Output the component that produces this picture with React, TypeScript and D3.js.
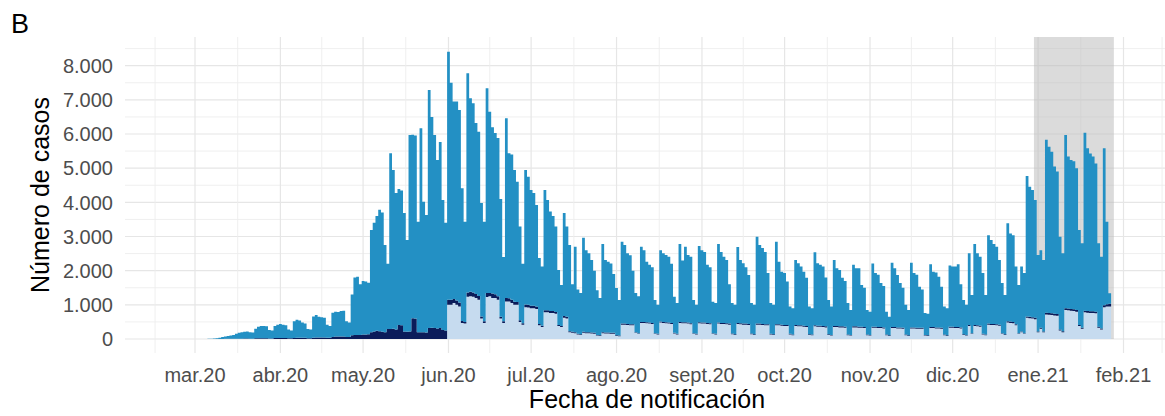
import React from 'react';
import * as d3 from 'd3';

// Casos diarios por fecha de notificación, semanas de lunes a domingo desde el 2 mar 2020
const startDate = Date.UTC(2020, 2, 2);
const DAY = 86400000;

// total de casos por día (altura de la barra completa)
const totalCasos: number[][] = [
  [0, 0, 0, 0, 5, 10, 15],
  [20, 40, 60, 70, 90, 100, 120],
  [150, 180, 200, 210, 220, 200, 190],
  [300, 360, 380, 380, 370, 260, 250],
  [380, 420, 440, 420, 400, 280, 250],
  [520, 560, 540, 480, 450, 290, 280],
  [660, 700, 650, 640, 620, 420, 380],
  [770, 800, 790, 820, 830, 520, 480],
  [1300, 1800, 1820, 1600, 1700, 1680, 1650],
  [3190, 3400, 3600, 3780, 3700, 2750, 2200],
  [5440, 4950, 4270, 4390, 4350, 3690, 2900],
  [5970, 5980, 5960, 3430, 6170, 4020, 3630],
  [7290, 6500, 5970, 5240, 5770, 4070, 3400],
  [8410, 7500, 6950, 6950, 6700, 4410, 3430],
  [7780, 7050, 6900, 6320, 6070, 3980, 3430],
  [7340, 6650, 6200, 6030, 5880, 4100, 2400],
  [6460, 5440, 5400, 4950, 4600, 3290, 2200],
  [4950, 4750, 4360, 4270, 3920, 2370, 2120],
  [4360, 4070, 3730, 3600, 3290, 2020, 1580],
  [3690, 3290, 2750, 1600, 2700, 1450, 1350],
  [2960, 2600, 2510, 2310, 2000, 1430, 1200],
  [2780, 2310, 2260, 2210, 1900, 1490, 1140],
  [2850, 2750, 2510, 2450, 2000, 1350, 1250],
  [2700, 2600, 2260, 2170, 2100, 1140, 1000],
  [2600, 2510, 2460, 2410, 2200, 1240, 1050],
  [2780, 2300, 2700, 2460, 2410, 1140, 1000],
  [2720, 2600, 2550, 2170, 2100, 1090, 1050],
  [2780, 2550, 2410, 2310, 1600, 1050, 1000],
  [2690, 2310, 2220, 2100, 1870, 1050, 1000],
  [2990, 2750, 2660, 2550, 1930, 1050, 1000],
  [2850, 2260, 1970, 1930, 1680, 950, 900],
  [2310, 2220, 2120, 1970, 1790, 950, 900],
  [2540, 2220, 2170, 2120, 1800, 1140, 950],
  [2310, 2070, 2020, 1790, 1700, 1050, 850],
  [2170, 2070, 2070, 1580, 1500, 850, 800],
  [2210, 1930, 1880, 1640, 1550, 800, 650],
  [2230, 2070, 1870, 1640, 1500, 1000, 850],
  [2230, 1930, 1880, 1530, 1450, 760, 740],
  [2190, 1970, 1950, 1820, 1530, 950, 900],
  [2150, 2120, 2120, 2190, 1600, 1140, 1000],
  [2510, 1290, 2780, 2510, 2410, 1930, 1290],
  [3040, 2900, 2780, 2700, 2310, 1640, 1290],
  [3390, 3090, 3040, 2120, 1580, 2120, 1930],
  [4770, 4460, 4360, 4070, 2460, 2600, 2310],
  [5830, 5630, 5480, 5050, 4900, 2990, 2510],
  [5970, 5340, 5240, 5200, 5000, 3190, 2800],
  [6040, 5580, 5430, 5340, 5140, 2800, 2410],
  [5580, 3430, 1340],
];

// serie inferior (celeste claro)
const serieClara: number[][] = [
  [0, 0, 0, 0, 0, 0, 0],
  [0, 0, 0, 0, 0, 0, 0],
  [0, 0, 0, 0, 0, 0, 0],
  [0, 0, 0, 0, 0, 0, 0],
  [0, 0, 0, 0, 0, 0, 0],
  [0, 0, 0, 0, 0, 0, 0],
  [0, 0, 0, 0, 0, 0, 0],
  [0, 0, 0, 0, 0, 0, 0],
  [0, 0, 0, 0, 0, 0, 0],
  [0, 0, 0, 0, 0, 0, 0],
  [0, 0, 0, 0, 0, 0, 0],
  [0, 0, 0, 0, 0, 0, 0],
  [0, 0, 0, 0, 0, 0, 0],
  [1000, 1000, 1050, 1000, 950, 470, 450],
  [1240, 1250, 1240, 1200, 1150, 600, 470],
  [1230, 1250, 1200, 1200, 1150, 600, 470],
  [1100, 1100, 1050, 1000, 1000, 500, 420],
  [930, 920, 900, 900, 880, 400, 350],
  [780, 780, 760, 760, 740, 380, 350],
  [620, 600, 200, 180, 170, 130, 120],
  [180, 170, 170, 160, 150, 100, 90],
  [170, 160, 160, 150, 150, 90, 80],
  [420, 420, 410, 400, 400, 180, 150],
  [470, 470, 460, 450, 440, 150, 130],
  [480, 470, 460, 450, 440, 160, 130],
  [470, 460, 460, 450, 430, 150, 130],
  [460, 450, 450, 440, 430, 150, 130],
  [450, 440, 440, 430, 420, 140, 120],
  [440, 430, 420, 420, 410, 140, 120],
  [420, 420, 410, 400, 400, 130, 120],
  [400, 400, 390, 380, 380, 130, 110],
  [380, 370, 370, 360, 350, 120, 110],
  [370, 360, 360, 350, 340, 120, 100],
  [350, 350, 340, 340, 330, 110, 100],
  [340, 340, 330, 330, 320, 110, 100],
  [330, 330, 320, 320, 310, 110, 90],
  [320, 320, 310, 310, 300, 110, 90],
  [310, 310, 300, 300, 300, 100, 90],
  [320, 320, 310, 310, 300, 110, 90],
  [330, 330, 320, 320, 310, 120, 100],
  [380, 150, 380, 370, 360, 130, 110],
  [420, 410, 410, 400, 390, 150, 120],
  [480, 470, 460, 400, 150, 200, 150],
  [620, 610, 600, 580, 200, 300, 200],
  [720, 710, 700, 690, 680, 250, 200],
  [850, 840, 830, 820, 800, 380, 300],
  [780, 770, 760, 760, 750, 330, 280],
  [930, 950, 950],
];

// serie intermedia (azul oscuro)
const serieOscura: number[][] = [
  [0, 0, 0, 0, 0, 0, 0],
  [0, 0, 0, 5, 5, 5, 5],
  [10, 10, 10, 15, 15, 10, 10],
  [20, 20, 25, 25, 25, 15, 15],
  [30, 30, 30, 30, 30, 20, 20],
  [30, 35, 35, 35, 35, 25, 25],
  [40, 45, 45, 45, 45, 35, 35],
  [60, 70, 70, 70, 70, 60, 60],
  [110, 120, 120, 120, 130, 130, 140],
  [200, 220, 240, 230, 210, 200, 290],
  [290, 300, 280, 410, 400, 220, 210],
  [220, 610, 600, 200, 200, 200, 190],
  [320, 330, 320, 310, 320, 260, 250],
  [150, 150, 120, 130, 120, 60, 50],
  [120, 130, 120, 120, 110, 60, 50],
  [120, 100, 130, 110, 100, 50, 50],
  [100, 90, 100, 90, 80, 50, 40],
  [80, 80, 70, 70, 70, 40, 40],
  [60, 60, 60, 60, 50, 30, 30],
  [50, 50, 30, 30, 30, 20, 20],
  [30, 30, 30, 30, 30, 20, 20],
  [30, 30, 30, 30, 30, 20, 20],
  [30, 30, 30, 30, 30, 20, 20],
  [30, 30, 30, 30, 30, 20, 20],
  [30, 30, 30, 30, 30, 20, 20],
  [30, 30, 30, 30, 30, 20, 20],
  [30, 30, 30, 30, 30, 20, 20],
  [30, 30, 30, 30, 30, 20, 20],
  [30, 30, 30, 30, 30, 20, 20],
  [30, 30, 30, 30, 30, 20, 20],
  [30, 30, 30, 30, 30, 20, 20],
  [30, 30, 30, 30, 30, 20, 20],
  [30, 30, 30, 30, 30, 20, 20],
  [30, 30, 30, 30, 30, 20, 20],
  [30, 30, 30, 30, 30, 20, 20],
  [30, 30, 30, 30, 30, 20, 20],
  [30, 30, 30, 30, 30, 20, 20],
  [30, 30, 30, 30, 30, 20, 20],
  [30, 30, 30, 30, 30, 20, 20],
  [30, 30, 30, 30, 30, 20, 20],
  [30, 20, 30, 30, 30, 20, 20],
  [30, 30, 30, 30, 30, 20, 20],
  [40, 40, 40, 30, 20, 20, 20],
  [40, 40, 40, 40, 20, 30, 20],
  [50, 50, 50, 50, 50, 30, 30],
  [50, 50, 50, 50, 50, 30, 30],
  [50, 50, 50, 50, 50, 30, 30],
  [60, 70, 80],
];

// tramo sombreado
const sombraInicio = Date.UTC(2020, 11, 31);
const sombraFin = Date.UTC(2021, 0, 28);

const yTicks = [0, 1000, 2000, 3000, 4000, 5000, 6000, 7000, 8000];
const xTickLabels = [
  'mar.20', 'abr.20', 'may.20', 'jun.20', 'jul.20', 'ago.20',
  'sept.20', 'oct.20', 'nov.20', 'dic.20', 'ene.21', 'feb.21',
];

const WIDTH = 1165;
const HEIGHT = 416;
const panel = { left: 125, right: 1165, top: 37, bottom: 353 };

const COLOR_CLARO = '#c6dbef';
const COLOR_OSCURO = '#0b1c5a';
const COLOR_AZUL = '#2390c4';
const FONT = 'Liberation Sans, Arial, Helvetica, sans-serif';

const App: React.FC = () => {
  const totals = totalCasos.flat();
  const claros = serieClara.flat();
  const oscuros = serieOscura.flat();

  const rows = totals.map((t, i) => {
    const claro = claros[i] ?? 0;
    const oscuro = oscuros[i] ?? 0;
    return {
      t: startDate + i * DAY,
      claro,
      oscuro,
      azul: Math.max(0, t - claro - oscuro),
    };
  });

  // escala de tiempo anclada en 1 mar 2020 y 1 feb 2021
  const x = d3.scaleUtc()
    .domain([new Date(Date.UTC(2020, 2, 1)), new Date(Date.UTC(2021, 1, 1))])
    .range([195, 1123.5]);

  const y = d3.scaleLinear().domain([-410, 8840]).range([panel.bottom, panel.top]);

  const stack = d3.stack<typeof rows[number]>().keys(['claro', 'oscuro', 'azul']);
  const series = stack(rows);

  // area escalonada: cada día ocupa de -0.5 a +0.5 días
  const area = d3.area<{ t: number; y0: number; y1: number }>()
    .x(p => x(new Date(p.t)))
    .y0(p => y(p.y0))
    .y1(p => y(p.y1));

  const paths = series.map(s => {
    const pts: { t: number; y0: number; y1: number }[] = [];
    s.forEach((d, i) => {
      const t = rows[i].t;
      pts.push({ t: t - DAY / 2, y0: d[0], y1: d[1] });
      pts.push({ t: t + DAY / 2, y0: d[0], y1: d[1] });
    });
    return { key: s.key, d: area(pts) || '' };
  });

  const colors: Record<string, string> = {
    claro: COLOR_CLARO,
    oscuro: COLOR_OSCURO,
    azul: COLOR_AZUL,
  };

  // rejilla vertical: meses (mayor) y mitades de mes (menor)
  const months = d3.utcMonth.range(new Date(Date.UTC(2020, 1, 1)), new Date(Date.UTC(2021, 2, 2)));
  const majorX = months.filter(m => x(m) >= panel.left && x(m) <= panel.right);
  const minorX: number[] = [];
  for (let i = 0; i < months.length - 1; i++) {
    const mid = (x(months[i]) + x(months[i + 1])) / 2;
    if (mid >= panel.left && mid <= panel.right) minorX.push(mid);
  }
  const labelMonths = d3.utcMonth.range(new Date(Date.UTC(2020, 2, 1)), new Date(Date.UTC(2021, 1, 2)));

  const minorY = d3.range(500, 9000, 1000).filter(v => y(v) >= panel.top);

  const fmt = d3.formatLocale({
    decimal: ',',
    thousands: '.',
    grouping: [3],
    currency: ['', ''],
  }).format(',');

  const sx0 = x(new Date(sombraInicio - DAY / 2));
  const sx1 = x(new Date(sombraFin + DAY / 2));

  return (
    <svg
      width={WIDTH}
      height={HEIGHT}
      style={{ position: 'absolute', left: 0, top: 0, background: '#fff' }}
      fontFamily={FONT}
    >
      <rect x={0} y={0} width={WIDTH} height={HEIGHT} fill="#fff" />

      {/* rejilla */}
      <g>
        {minorY.map(v => (
          <line key={`my${v}`} x1={panel.left} x2={panel.right} y1={y(v)} y2={y(v)}
            stroke="#ededed" strokeWidth={0.9} />
        ))}
        {yTicks.map(v => (
          <line key={`gy${v}`} x1={panel.left} x2={panel.right} y1={y(v)} y2={y(v)}
            stroke="#e6e6e6" strokeWidth={1.2} />
        ))}
        {minorX.map((px, i) => (
          <line key={`mx${i}`} x1={px} x2={px} y1={panel.top} y2={panel.bottom}
            stroke="#ededed" strokeWidth={0.9} />
        ))}
        {majorX.map((m, i) => (
          <line key={`gx${i}`} x1={x(m)} x2={x(m)} y1={panel.top} y2={panel.bottom}
            stroke="#e6e6e6" strokeWidth={1.2} />
        ))}
      </g>

      {/* periodo sombreado */}
      <rect x={sx0} y={panel.top} width={sx1 - sx0} height={y(0) - panel.top}
        fill="#b8b8b8" fillOpacity={0.5} />

      {/* barras diarias apiladas */}
      {paths.map(p => (
        <path key={p.key} d={p.d} fill={colors[p.key]} stroke="none" />
      ))}

      {/* eje y */}
      {yTicks.map(v => (
        <text key={`ty${v}`} x={113} y={y(v)} dy="0.36em" textAnchor="end"
          fontSize={20} fill="#4d4d4d">{fmt(v)}</text>
      ))}

      {/* eje x */}
      {labelMonths.map((m, i) => (
        <text key={`tx${i}`} x={x(m)} y={382} textAnchor="middle"
          fontSize={20} fill="#4d4d4d">{xTickLabels[i]}</text>
      ))}

      <text x={647} y={408} textAnchor="middle" fontSize={25} fill="#000">
        Fecha de notificación
      </text>
      <text transform="translate(49,195) rotate(-90)" textAnchor="middle" fontSize={25} fill="#000">
        Número de casos
      </text>
      <text x={11} y={33} fontSize={27} fill="#000">B</text>
    </svg>
  );
};

export default App;
